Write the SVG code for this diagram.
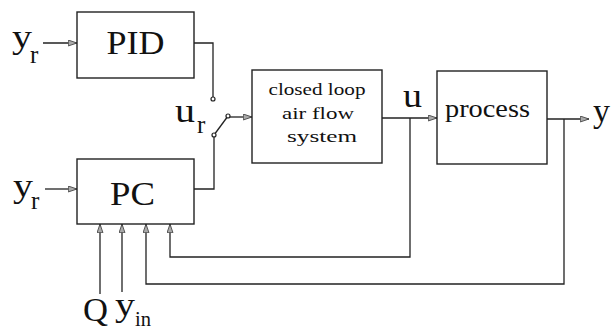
<svg xmlns="http://www.w3.org/2000/svg" width="611" height="332" viewBox="0 0 611 332">
<style>
  .box{fill:#fff;stroke:#222;stroke-width:1.4}
  .ln{fill:none;stroke:#222;stroke-width:1.3}
  .t{font-family:"Liberation Serif","DejaVu Serif",serif;fill:#111}
  .big{font-size:33px}
  .sub{font-size:25px}
  .small{font-size:17px}
  .dot{fill:#fff;stroke:#222;stroke-width:1.2}
</style>
<defs>
  <marker id="ah" viewBox="0 0 10 8" refX="10" refY="4" markerWidth="10" markerHeight="7" orient="auto" markerUnits="userSpaceOnUse">
    <path d="M0,0.6 L10,4 L0,7.4 Z" fill="#aaa" stroke="#444" stroke-width="1"/>
  </marker>
</defs>
<rect width="611" height="332" fill="#fff"/>

<g id="connectors">
  <path class="ln" d="M43,43 H77" marker-end="url(#ah)"/>
  <path class="ln" d="M194,43 H213 V97"/>
  <path class="ln" d="M194,189 H214 V135"/>
  <path class="ln" d="M214,135 L228,116"/>
  <path class="ln" d="M228,117 H252" marker-end="url(#ah)"/>
  <path class="ln" d="M45,189 H77" marker-end="url(#ah)"/>
  <path class="ln" d="M382,118 H437" marker-end="url(#ah)"/>
  <path class="ln" d="M410,118 V257 H170 V224" marker-end="url(#ah)"/>
  <path class="ln" d="M547,119 H589" marker-end="url(#ah)"/>
  <path class="ln" d="M564,119 V284 H146 V224" marker-end="url(#ah)"/>
  <path class="ln" d="M100,294 V224" marker-end="url(#ah)"/>
  <path class="ln" d="M122,292 V224" marker-end="url(#ah)"/>
  <circle class="dot" cx="213" cy="99" r="2"/>
  <circle class="dot" cx="214" cy="135" r="2"/>
  <circle class="dot" cx="228" cy="116" r="2"/>
</g>

<g id="pid">
  <rect class="box" x="77" y="12" width="117" height="66"/>
  <text class="t big" x="135.5" y="54" text-anchor="middle" textLength="58" lengthAdjust="spacingAndGlyphs">PID</text>
</g>

<g id="pc">
  <rect class="box" x="77" y="159" width="117" height="65"/>
  <text class="t big" x="132.5" y="205" text-anchor="middle" textLength="45" lengthAdjust="spacingAndGlyphs">PC</text>
</g>

<g id="airflow">
  <rect class="box" x="252" y="70" width="130" height="93"/>
  <text class="t small" x="317" y="95" text-anchor="middle" textLength="97" lengthAdjust="spacingAndGlyphs">closed loop</text>
  <text class="t small" x="318" y="119" text-anchor="middle" textLength="72" lengthAdjust="spacingAndGlyphs">air  flow</text>
  <text class="t small" x="322" y="142" text-anchor="middle" textLength="70" lengthAdjust="spacingAndGlyphs">system</text>
</g>

<g id="process">
  <rect class="box" x="437" y="71" width="110" height="93"/>
  <text class="t" x="445" y="117" font-size="26" textLength="85" lengthAdjust="spacingAndGlyphs">process</text>
</g>

<g id="labels">
  <text class="t big" x="12" y="48" textLength="20" lengthAdjust="spacingAndGlyphs">y</text>
  <text class="t sub" x="30" y="63">r</text>
  <text class="t big" x="13" y="197" textLength="20" lengthAdjust="spacingAndGlyphs">y</text>
  <text class="t sub" x="31" y="209">r</text>
  <text class="t big" x="175" y="122" textLength="20" lengthAdjust="spacingAndGlyphs">u</text>
  <text class="t sub" x="197" y="133">r</text>
  <text class="t big" x="403" y="107" textLength="19" lengthAdjust="spacingAndGlyphs">u</text>
  <text class="t big" x="593" y="122" textLength="17" lengthAdjust="spacingAndGlyphs">y</text>
  <text class="t big" x="83" y="321" textLength="25" lengthAdjust="spacingAndGlyphs">Q</text>
  <text class="t big" x="115" y="316" textLength="20" lengthAdjust="spacingAndGlyphs">y</text>
  <text class="t" x="135" y="326" font-size="20" textLength="16" lengthAdjust="spacingAndGlyphs">in</text>
</g>
</svg>
